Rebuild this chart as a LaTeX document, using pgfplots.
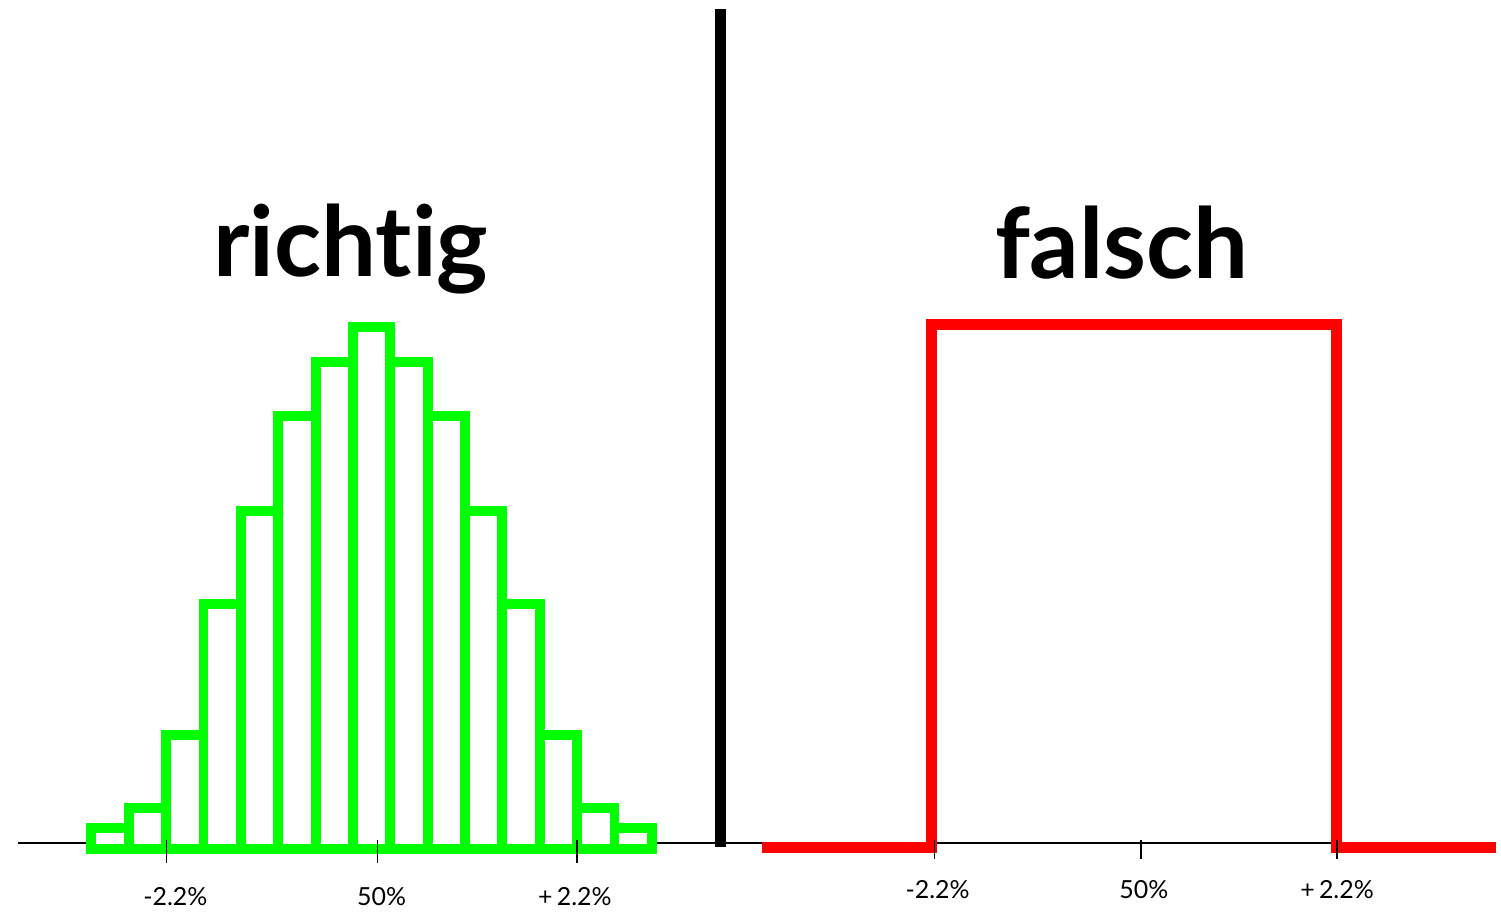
\documentclass[border=0pt]{standalone}
\usepackage{pgfplots}
\pgfplotsset{compat=1.18}
\usepackage{fontspec}
\setmainfont{Lato}[Ligatures=NoCommon]
\definecolor{hgreen}{RGB}{0,255,0}
\definecolor{hred}{RGB}{255,0,0}
\begin{document}
\begin{tikzpicture}
\begin{axis}[
  scale only axis, width=750.5pt, height=455pt,
  xmin=0, xmax=1501, ymin=-58, ymax=852,
  axis lines=none, clip=false,
  unbounded coords=jump,
]
\path (axis cs:0,-58) rectangle (axis cs:1501,852);
% axis line
\addplot[black, line width=0.75pt, forget plot] coordinates {(18,6) (1501,6)};
% histogram (richtig)
\addplot[ybar, bar width=37.5, draw=hgreen, fill=white, line width=5pt, line join=miter] coordinates {
(110.5,21) (148,41) (185.5,114) (223,246) (260.5,339) (298,434) (335.5,489) (373,524)
(410.5,489) (448,434) (485.5,339) (523,246) (560.5,114) (598,41) (635.5,21)};
% rectangle (falsch)
\addplot[hred, line width=5.5pt, line join=miter, sharp plot] coordinates {
(765,1.5) (935,1.5) (935,526) (1341,526) (1341,1.5) (1501,1.5)};
% divider
\addplot[black, line width=5.8pt] coordinates {(723,2) (723,843)};
% ticks
\addplot[black, line width=0.7pt] coordinates {
(167,9) (167,-14) (nan,nan) (379,9) (379,-14) (nan,nan) (579,9) (579,-14) (nan,nan)
(938,9) (938,-10) (nan,nan) (1145,9) (1145,-10) (nan,nan) (1342,9) (1342,-10)};
% titles
\node[anchor=base, font=\fontsize{49}{50}\selectfont\bfseries] at (axis cs:352,574) {richtig};
\node[anchor=base, font=\fontsize{49}{50}\selectfont\bfseries] at (axis cs:1126,572) {falsch};
% tick labels
\node[font=\fontsize{12.5}{13}\selectfont] at (axis cs:176,-48) {-2.2\%};
\node[font=\fontsize{12.5}{13}\selectfont] at (axis cs:383,-48) {50\%};
\node[font=\fontsize{12.5}{13}\selectfont] at (axis cs:577,-48) {+\,2.2\%};
\node[font=\fontsize{12.5}{13}\selectfont] at (axis cs:941,-41) {-2.2\%};
\node[font=\fontsize{12.5}{13}\selectfont] at (axis cs:1148,-41) {50\%};
\node[font=\fontsize{12.5}{13}\selectfont] at (axis cs:1342,-41) {+\,2.2\%};
\end{axis}
\end{tikzpicture}
\end{document}
